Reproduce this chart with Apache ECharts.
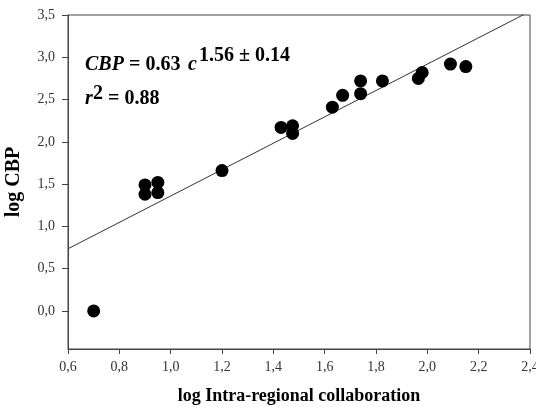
<!DOCTYPE html>
<html>
<head>
<meta charset="utf-8">
<script src="https://cdn.jsdelivr.net/npm/echarts@6/dist/echarts.min.js"></script>
<style>
  html, body { margin: 0; padding: 0; background: #fff; }
  #chart { width: 536px; height: 407px; }
</style>
</head>
<body>
<div id="chart"></div>
<script>
// log intra-regional collaboration vs log CBP
const logCollab = [0.70, 0.90, 0.90, 0.95, 0.95, 1.20, 1.43, 1.475, 1.475, 1.63, 1.67, 1.74, 1.74, 1.825, 1.965, 1.98, 2.09, 2.15]
const logCbp = [0.00, 1.49, 1.38, 1.52, 1.40, 1.66, 2.17, 2.19, 2.10, 2.41, 2.55, 2.72, 2.57, 2.72, 2.75, 2.82, 2.92, 2.89]

// fit: CBP = 0.63 c^1.56
const fitA = 0.63
const fitB = 1.56
const fitRange = [0.6, 2.4]

const yTicks = [0, 0.5, 1, 1.5, 2, 2.5, 3, 3.5]
const xTicks = [0.6, 0.8, 1.0, 1.2, 1.4, 1.6, 1.8, 2.0, 2.2, 2.4]

const points = logCollab.map((x, i) => [x, logCbp[i]])
const fitLine = fitRange.map(x => [x, Math.log10(fitA) + fitB * x])

const comma = v => v.toFixed(1).replace('.', ',')
const serif = '"Liberation Serif", "DejaVu Serif", serif'
const axisColor = '#444'
const eqFont = 'bold 20px ' + serif
const eqItalic = 'italic bold 20px ' + serif

const chart = echarts.init(document.getElementById('chart'))
chart.setOption({
  animation: false,
  grid: {
    left: 68, right: 6, top: 15, bottom: 58,
    outerBoundsMode: 'none', containLabel: false,
    show: true, borderColor: axisColor, borderWidth: 1
  },
  xAxis: {
    type: 'value', min: 0.6, max: 2.4,
    name: 'log Intra-regional collaboration',
    nameLocation: 'middle', nameGap: 38,
    nameTextStyle: { fontFamily: serif, fontWeight: 'bold', fontSize: 18, color: '#000' },
    axisLine: { onZero: false, lineStyle: { color: axisColor } },
    axisTick: { customValues: xTicks, length: 5, lineStyle: { color: axisColor } },
    axisLabel: { customValues: xTicks, formatter: comma, fontFamily: serif, fontSize: 14, color: '#333', margin: 11 },
    splitLine: { show: false }
  },
  yAxis: {
    type: 'value', min: -0.45, max: 3.5,
    name: 'log CBP',
    nameLocation: 'middle', nameGap: 44, nameRotate: 90,
    nameTextStyle: { fontFamily: serif, fontWeight: 'bold', fontSize: 20, color: '#000' },
    axisLine: { show: true, onZero: false, lineStyle: { color: axisColor } },
    axisTick: { show: true, customValues: yTicks, length: 6, lineStyle: { color: axisColor } },
    axisLabel: { customValues: yTicks, formatter: comma, fontFamily: serif, fontSize: 14, color: '#333', margin: 13 },
    splitLine: { show: false }
  },
  graphic: [
    { type: 'text', left: 85, top: 55, style: { text: 'CBP', font: eqItalic, fill: '#000' } },
    { type: 'text', left: 129, top: 55, style: { text: '= 0.63', font: eqFont, fill: '#000' } },
    { type: 'text', left: 188, top: 55, style: { text: 'c', font: eqItalic, fill: '#000' } },
    { type: 'text', left: 199, top: 46, style: { text: '1.56 ± 0.14', font: eqFont, fill: '#000' } },
    { type: 'text', left: 85, top: 89, style: { text: 'r', font: eqItalic, fill: '#000' } },
    { type: 'text', left: 93, top: 84, style: { text: '2', font: eqFont, fill: '#000' } },
    { type: 'text', left: 108, top: 89, style: { text: '= 0.88', font: eqFont, fill: '#000' } }
  ],
  series: [
    {
      type: 'line', data: fitLine, symbol: 'none', clip: true,
      lineStyle: { color: '#333', width: 1 }, z: 2
    },
    {
      type: 'scatter', data: points, symbol: 'circle', symbolSize: 13,
      itemStyle: { color: '#000', opacity: 1 }, z: 3
    }
  ]
})
window.addEventListener('resize', () => {
  chart.resize()
})
</script>
</body>
</html>
